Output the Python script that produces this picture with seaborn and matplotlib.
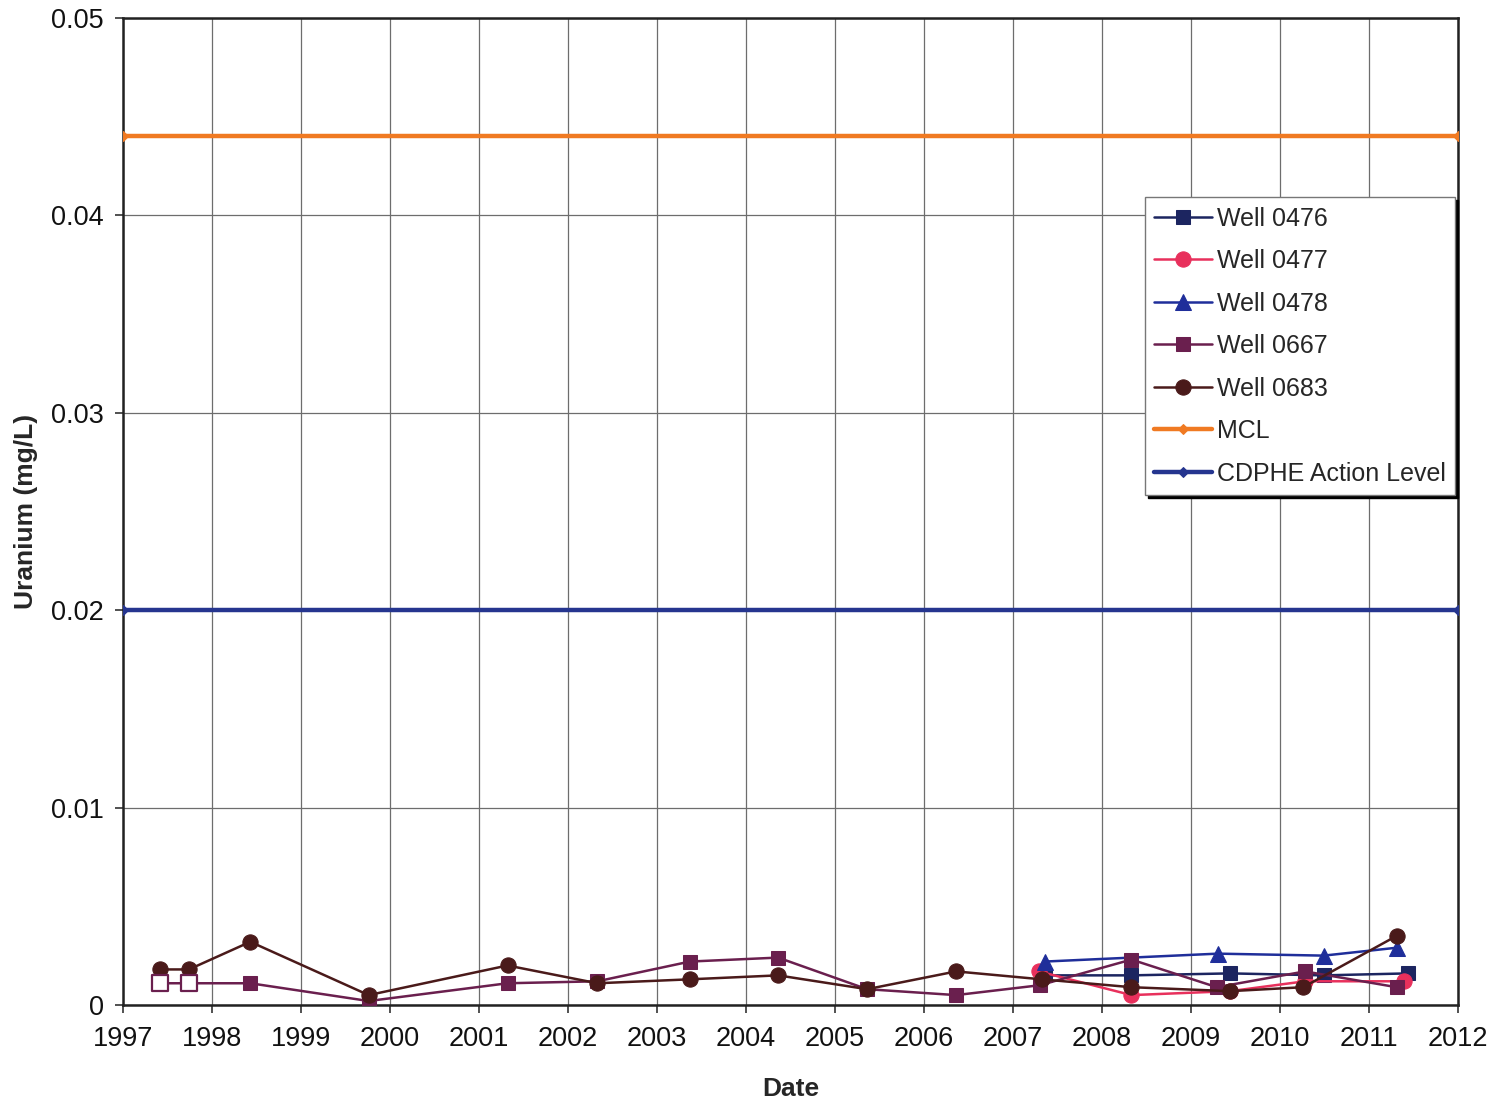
import matplotlib
matplotlib.use("Agg")
import matplotlib.pyplot as plt
import seaborn as sns
import pandas as pd

# Sampling dates (decimal years) and uranium concentrations (mg/L)
well_0476_x = [2007.36, 2008.33, 2009.44, 2010.49, 2011.44]
well_0476_y = [0.0015, 0.0015, 0.0016, 0.0015, 0.0016]

well_0477_x = [2007.29, 2008.33, 2009.44, 2010.28, 2011.39]
well_0477_y = [0.0017, 0.0005, 0.0007, 0.0012, 0.0012]

well_0478_x = [2007.36, 2009.30, 2010.49, 2011.31]
well_0478_y = [0.0022, 0.0026, 0.0025, 0.0029]

well_0667_x = [1997.41, 1997.74, 1998.43, 1999.76, 2001.32, 2002.33, 2003.37,
               2004.36, 2005.36, 2006.36, 2007.30, 2008.33, 2009.29, 2010.28, 2011.31]
well_0667_y = [0.0011, 0.0011, 0.0011, 0.0002, 0.0011, 0.0012, 0.0022,
               0.0024, 0.0008, 0.0005, 0.0010, 0.0023, 0.0009, 0.0017, 0.0009]
well_0667_nondetect = [True, True] + [False] * 13

well_0683_x = [1997.41, 1997.74, 1998.43, 1999.76, 2001.32, 2002.33, 2003.37,
               2004.36, 2005.36, 2006.36, 2007.32, 2008.33, 2009.44, 2010.26, 2011.31]
well_0683_y = [0.0018, 0.0018, 0.0032, 0.0005, 0.0020, 0.0011, 0.0013,
               0.0015, 0.0008, 0.0017, 0.0013, 0.0009, 0.0007, 0.0009, 0.0035]

limit_x = [1997.0, 2012.0]
mcl_y = [0.044, 0.044]
cdphe_y = [0.020, 0.020]

year_ticks = list(range(1997, 2013))
y_ticks = [0, 0.01, 0.02, 0.03, 0.04, 0.05]
y_tick_labels = ["0", "0.01", "0.02", "0.03", "0.04", "0.05"]

sns.set_style("white")
plt.rcParams["font.family"] = ["Liberation Sans", "DejaVu Sans"]

fig = plt.figure(figsize=(14.93, 11.04), dpi=100)
ax = fig.add_axes([0.0824, 0.0897, 0.8942, 0.894])

series = [
    ("Well 0476", well_0476_x, well_0476_y, "#1c2560", "s", 10),
    ("Well 0477", well_0477_x, well_0477_y, "#e8305c", "o", 11),
    ("Well 0478", well_0478_x, well_0478_y, "#1f2e9a", "^", 11),
    ("Well 0667", well_0667_x, well_0667_y, "#6a1f4e", "s", 10),
    ("Well 0683", well_0683_x, well_0683_y, "#4a1a1a", "o", 11),
]

for name, xs, ys, col, mk, ms in series:
    df = pd.DataFrame({"Date": xs, "U": ys})
    sns.lineplot(data=df, x="Date", y="U", ax=ax, color=col, marker=mk,
                 markersize=ms, linewidth=1.8, markeredgecolor=col,
                 markerfacecolor=col, label=name, zorder=4, sort=False)

# Non-detect results drawn as open markers
nd = pd.DataFrame({"Date": [x for x, f in zip(well_0667_x, well_0667_nondetect) if f],
                   "U": [y for y, f in zip(well_0667_y, well_0667_nondetect) if f]})
sns.scatterplot(data=nd, x="Date", y="U", ax=ax, marker="s", s=130,
                facecolor="white", edgecolor="#6a1f4e", linewidth=1.6, zorder=5)

lim = pd.DataFrame({"Date": limit_x, "MCL": mcl_y, "CDPHE": cdphe_y})
sns.lineplot(data=lim, x="Date", y="MCL", ax=ax, color="#f07a22", linewidth=3.2,
             marker="D", markersize=5, markeredgecolor="#f07a22", label="MCL", zorder=3)
sns.lineplot(data=lim, x="Date", y="CDPHE", ax=ax, color="#25358f", linewidth=3.2,
             marker="D", markersize=5, markeredgecolor="#25358f",
             label="CDPHE Action Level", zorder=3)

ax.set_xlim(1997, 2012)
ax.set_ylim(0, 0.05)
ax.set_xticks(year_ticks)
ax.set_xticklabels([str(y) for y in year_ticks], fontsize=19.5)
ax.set_yticks(y_ticks)
ax.set_yticklabels(y_tick_labels, fontsize=19.5)
ax.grid(True, color="#6d6d6d", linewidth=0.9)
ax.set_axisbelow(True)
for sp in ax.spines.values():
    sp.set_color("#222222")
    sp.set_linewidth(1.8)
ax.tick_params(axis="both", direction="out", length=6, width=1.2, color="#333333",
               bottom=True, left=True, labelcolor="#111111")
ax.tick_params(axis="x", pad=9)
ax.tick_params(axis="y", pad=8)

ax.set_xlabel("Date", fontsize=19, fontweight="bold", labelpad=18)
ax.set_ylabel("Uranium (mg/L)", fontsize=19, fontweight="bold", labelpad=9)

leg = ax.legend(loc="upper left", bbox_to_anchor=(0.7655, 0.8186), fontsize=18,
                frameon=True, fancybox=False, edgecolor="#777777", framealpha=1,
                shadow={"color": "black", "alpha": 1.0}, handlelength=2.3,
                handletextpad=0.2, labelspacing=0.74, borderpad=0.38,
                borderaxespad=0)
leg.get_frame().set_linewidth(1.0)

fig.savefig("out.png", dpi=100)
